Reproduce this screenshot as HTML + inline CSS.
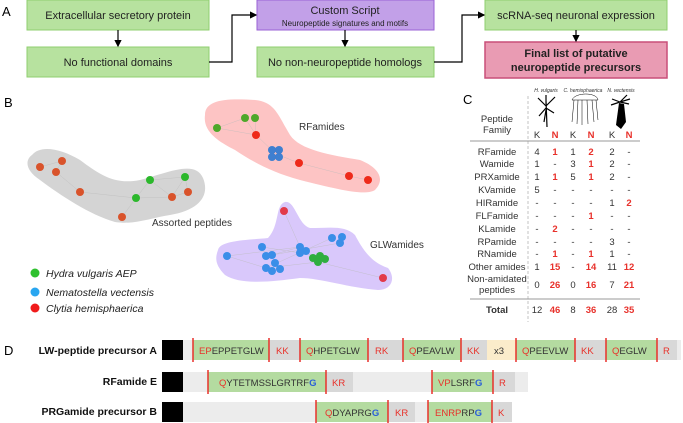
<!DOCTYPE html>
<html><head><meta charset="utf-8"><style>
body{margin:0;background:#fff}
svg{display:block;font-family:"Liberation Sans","DejaVu Sans",sans-serif}
</style></head><body>
<svg width="683" height="423" viewBox="0 0 683 423" xmlns="http://www.w3.org/2000/svg">
<defs><marker id="ah" markerWidth="6" markerHeight="6" refX="5" refY="3" orient="auto"><path d="M0,0 L6,3 L0,6 z" fill="#000"/></marker></defs>
<text x="2" y="16" font-size="13">A</text>
<g stroke-width="1">
<rect x="27" y="0" width="182" height="30" fill="#b7e29f" stroke="#8fcf6f"/>
<rect x="27" y="47" width="182" height="30" fill="#b7e29f" stroke="#8fcf6f"/>
<rect x="257" y="0" width="177" height="30" fill="#c2a0e8" stroke="#9a62d6"/>
<rect x="257" y="47" width="177" height="30" fill="#b7e29f" stroke="#8fcf6f"/>
<rect x="485" y="0" width="182" height="30" fill="#b7e29f" stroke="#8fcf6f"/>
<rect x="485" y="42" width="182" height="36" fill="#e99bb3" stroke="#c94f79" stroke-width="1.5"/>
</g>
<g font-size="11" text-anchor="middle" fill="#222">
<text x="118" y="19">Extracellular secretory protein</text>
<text x="118" y="66">No functional domains</text>
<text x="345" y="14">Custom Script</text>
<text x="345" y="26" font-size="8">Neuropeptide signatures and motifs</text>
<text x="345" y="66">No non-neuropeptide homologs</text>
<text x="576" y="19">scRNA-seq neuronal expression</text>
<text x="576" y="57" font-weight="bold">Final list of putative</text>
<text x="576" y="71" font-weight="bold">neuropeptide precursors</text>
</g>
<g stroke="#000" stroke-width="1.2" fill="none" marker-end="url(#ah)">
<path d="M118,30 V46"/>
<path d="M209,62 H232 V15 H256"/>
<path d="M345,30 V46"/>
<path d="M434,62 H462 V15 H484"/>
<path d="M576,30 V41"/>
</g>
<text x="4" y="107" font-size="13">B</text>
<path d="M32,155 C40,145 60,148 80,160 C100,175 115,185 140,180 C170,172 195,160 203,178 C210,195 200,210 170,215 C150,218 135,225 115,222 C90,215 60,195 40,180 C25,170 25,160 32,155 Z" fill="#d4d4d4"/>
<path d="M205,115 C205,100 225,98 255,100 C275,102 278,115 290,135 C300,150 330,155 360,160 C380,168 385,180 375,190 C365,196 340,190 300,180 C270,172 250,160 235,150 C215,140 203,130 205,115 Z" fill="#fdc4c4"/>
<path d="M218,250 C220,240 250,240 268,238 C280,225 275,205 285,202 C295,200 298,225 310,228 C330,228 345,225 355,235 C362,248 370,262 388,268 C396,278 392,290 378,290 C350,288 320,278 300,278 C270,282 240,285 225,275 C215,265 215,258 218,250 Z" fill="#d9c8fb"/>
<g stroke="#bbb" stroke-width="0.5" opacity="0.7" fill="none">
<path d="M40,167 L62,161 L56,172 L80,192 L136,198 L150,180 L185,177 L188,192 L172,197 L136,198 L122,217 M150,180 L172,197 M185,177 L172,197"/>
<path d="M217,128 L245,118 L256,135 L276,154 L299,163 L349,176 L368,180 M217,128 L256,135 M255,118 L256,135"/>
<path d="M227,256 L266,268 L318,262 L383,278 M284,211 L300,247 L272,255 L340,243 M262,247 L320,256 M227,256 L300,247 M266,268 L332,238"/>
</g>
<g>
<circle cx="40" cy="167" r="4" fill="#d9532b"/><circle cx="62" cy="161" r="4" fill="#d9532b"/><circle cx="56" cy="172" r="4" fill="#d9532b"/><circle cx="80" cy="192" r="4" fill="#d9532b"/><circle cx="122" cy="217" r="4" fill="#d9532b"/><circle cx="172" cy="197" r="4" fill="#d9532b"/><circle cx="188" cy="192" r="4" fill="#d9532b"/>
<circle cx="150" cy="180" r="4" fill="#2cb82c"/><circle cx="185" cy="177" r="4" fill="#2cb82c"/><circle cx="136" cy="198" r="4" fill="#2cb82c"/>
<circle cx="217" cy="128" r="4" fill="#4ea82a"/><circle cx="245" cy="118" r="4" fill="#4ea82a"/><circle cx="255" cy="118" r="4" fill="#4ea82a"/>
<circle cx="256" cy="135" r="4" fill="#ee2a1a"/><circle cx="299" cy="163" r="4" fill="#ee2a1a"/><circle cx="349" cy="176" r="4" fill="#ee2a1a"/><circle cx="368" cy="180" r="4" fill="#ee2a1a"/>
<circle cx="272" cy="150" r="4" fill="#3f7fd0"/><circle cx="279" cy="150" r="4" fill="#3f7fd0"/><circle cx="272" cy="157" r="4" fill="#3f7fd0"/><circle cx="279" cy="157" r="4" fill="#3f7fd0"/>
<circle cx="284" cy="211" r="4" fill="#e23a4a"/><circle cx="383" cy="278" r="4" fill="#e23a4a"/>
<g fill="#3a8ee8"><circle cx="227" cy="256" r="4"/><circle cx="262" cy="247" r="4"/><circle cx="266" cy="256" r="4"/><circle cx="272" cy="255" r="4"/><circle cx="275" cy="263" r="4"/><circle cx="266" cy="268" r="4"/><circle cx="272" cy="271" r="4"/><circle cx="280" cy="269" r="4"/><circle cx="300" cy="247" r="4"/><circle cx="306" cy="251" r="4"/><circle cx="300" cy="253" r="4"/><circle cx="332" cy="238" r="4"/><circle cx="342" cy="237" r="4"/><circle cx="340" cy="243" r="4"/></g>
<g fill="#2fae3f"><circle cx="313" cy="258" r="4"/><circle cx="320" cy="256" r="4"/><circle cx="325" cy="259" r="4"/><circle cx="318" cy="262" r="4"/></g>
</g>
<g font-size="10" fill="#333">
<text x="299" y="130">RFamides</text>
<text x="152" y="226">Assorted peptides</text>
<text x="370" y="248">GLWamides</text>
</g>
<circle cx="35" cy="273" r="4.5" fill="#2fc12f"/><circle cx="35" cy="292" r="4.5" fill="#29a6f0"/><circle cx="35" cy="308" r="4.5" fill="#f01b1b"/>
<g font-size="10.5" font-style="italic" fill="#222">
<text x="46" y="277">Hydra vulgaris AEP</text>
<text x="46" y="296">Nematostella vectensis</text>
<text x="46" y="312">Clytia hemisphaerica</text>
</g>
<text x="463" y="104" font-size="13">C</text>
<line x1="528" y1="96" x2="528" y2="322" stroke="#aaa" stroke-dasharray="3,2" stroke-width="0.7"/>
<g font-size="5" font-style="italic" fill="#333" text-anchor="middle">
<text x="546" y="92">H. vulgaris</text><text x="583" y="92">C. hemisphaerica</text><text x="621" y="92">N. vectensis</text>
</g>
<g stroke="#000" stroke-width="1.2" fill="none">
<path d="M547,127 L546,100 M546,106 L538,98 M546,106 L555,97 M546,108 L539,116 M546,108 L554,113 M546,104 L546,95 M546,110 L544,122"/>
<path d="M572,100 C575,92 597,92 598,100 Z M574,100 L572,122 M578,100 L577,124 M582,100 L582,125 M587,100 L588,124 M592,100 L594,122 M596,100 L598,120" stroke-width="0.5"/>
<path d="M620,102 L612,99 M620,102 L627,95 M620,102 L630,99 M620,102 L611,105 M620,102 L629,104"/>
</g>
<path d="M619,103 L624,104 L626,122 L621,129 L616,125 Z" fill="#000"/>
<text x="497" y="122" font-size="9.5" text-anchor="middle" fill="#333">Peptide</text>
<text x="497" y="133" font-size="9.5" text-anchor="middle" fill="#333">Family</text>
<line x1="470" y1="141" x2="640" y2="141" stroke="#999"/>
<line x1="470" y1="299" x2="640" y2="299" stroke="#999"/>
<g font-size="9.5" fill="#333" text-anchor="middle">
<text x="537" y="138">K</text><text x="573" y="138">K</text><text x="612" y="138">K</text>
<g fill="#e8312b" font-weight="bold"><text x="555" y="138">N</text><text x="591" y="138">N</text><text x="629" y="138">N</text></g>
<text x="497" y="155">RFamide</text><text x="497" y="167">Wamide</text><text x="497" y="180">PRXamide</text><text x="497" y="193">KVamide</text><text x="497" y="206">HIRamide</text><text x="497" y="219">FLFamide</text><text x="497" y="232">KLamide</text><text x="497" y="245">RPamide</text><text x="497" y="257">RNamide</text><text x="497" y="270">Other amides</text><text x="497" y="282">Non-amidated</text><text x="497" y="293">peptides</text>
<text x="497" y="313" font-weight="bold">Total</text>
<text x="537" y="155">4</text><text x="573" y="155">1</text><text x="612" y="155">2</text><text x="629" y="155">-</text>
<text x="537" y="167">1</text><text x="555" y="167">-</text><text x="573" y="167">3</text><text x="612" y="167">2</text><text x="629" y="167">-</text>
<text x="537" y="180">1</text><text x="573" y="180">5</text><text x="612" y="180">2</text><text x="629" y="180">-</text>
<text x="537" y="193">5</text><text x="555" y="193">-</text><text x="573" y="193">-</text><text x="591" y="193">-</text><text x="612" y="193">-</text><text x="629" y="193">-</text>
<text x="537" y="206">-</text><text x="555" y="206">-</text><text x="573" y="206">-</text><text x="591" y="206">-</text><text x="612" y="206">1</text>
<text x="537" y="219">-</text><text x="555" y="219">-</text><text x="573" y="219">-</text><text x="612" y="219">-</text><text x="629" y="219">-</text>
<text x="537" y="232">-</text><text x="573" y="232">-</text><text x="591" y="232">-</text><text x="612" y="232">-</text><text x="629" y="232">-</text>
<text x="537" y="245">-</text><text x="555" y="245">-</text><text x="573" y="245">-</text><text x="591" y="245">-</text><text x="612" y="245">3</text><text x="629" y="245">-</text>
<text x="537" y="257">-</text><text x="573" y="257">-</text><text x="612" y="257">1</text><text x="629" y="257">-</text>
<text x="537" y="270">1</text><text x="573" y="270">-</text><text x="612" y="270">11</text>
<text x="537" y="288">0</text><text x="573" y="288">0</text><text x="612" y="288">7</text>
<text x="537" y="313">12</text><text x="573" y="313">8</text><text x="612" y="313">28</text>
<g fill="#e8312b" font-weight="bold">
<text x="555" y="155">1</text><text x="591" y="155">2</text><text x="591" y="167">1</text><text x="555" y="180">1</text><text x="591" y="180">1</text><text x="629" y="206">2</text><text x="591" y="219">1</text><text x="555" y="232">2</text><text x="555" y="257">1</text><text x="591" y="257">1</text>
<text x="555" y="270">15</text><text x="591" y="270">14</text><text x="629" y="270">12</text>
<text x="555" y="288">26</text><text x="591" y="288">16</text><text x="629" y="288">21</text>
<text x="555" y="313">46</text><text x="591" y="313">36</text><text x="629" y="313">35</text>
</g>
</g>
<text x="4" y="355" font-size="13">D</text>
<g font-size="10.5" font-weight="bold" text-anchor="end" fill="#111">
<text x="157" y="354">LW-peptide precursor A</text>
<text x="157" y="385">RFamide E</text>
<text x="157" y="415">PRGamide precursor B</text>
</g>
<rect x="183" y="340" width="498" height="20" fill="#ececec"/>
<rect x="162" y="340" width="21" height="20" fill="#000"/>
<g fill="#b4dba0"><rect x="193" y="340" width="76" height="20"/><rect x="300" y="340" width="68" height="20"/><rect x="403" y="340" width="58" height="20"/><rect x="516" y="340" width="59" height="20"/><rect x="606" y="340" width="51" height="20"/></g>
<g fill="#d8d8d8"><rect x="269" y="340" width="31" height="20"/><rect x="368" y="340" width="35" height="20"/><rect x="461" y="340" width="26" height="20"/><rect x="575" y="340" width="31" height="20"/><rect x="657" y="340" width="20" height="20"/></g>
<rect x="487" y="340" width="29" height="20" fill="#fbeccb"/>
<g stroke="#e8312b" stroke-width="1.5"><line x1="193" y1="338" x2="193" y2="362"/><line x1="269" y1="338" x2="269" y2="362"/><line x1="300" y1="338" x2="300" y2="362"/><line x1="368" y1="338" x2="368" y2="362"/><line x1="403" y1="338" x2="403" y2="362"/><line x1="461" y1="338" x2="461" y2="362"/><line x1="516" y1="338" x2="516" y2="362"/><line x1="575" y1="338" x2="575" y2="362"/><line x1="606" y1="338" x2="606" y2="362"/><line x1="657" y1="338" x2="657" y2="362"/></g>
<rect x="183" y="372" width="345" height="20" fill="#ececec"/>
<rect x="162" y="372" width="21" height="20" fill="#000"/>
<rect x="208" y="372" width="118" height="20" fill="#b4dba0"/><rect x="326" y="372" width="27" height="20" fill="#d8d8d8"/>
<rect x="432" y="372" width="61" height="20" fill="#b4dba0"/><rect x="493" y="372" width="22" height="20" fill="#d8d8d8"/>
<g stroke="#e8312b" stroke-width="1.5"><line x1="208" y1="370" x2="208" y2="394"/><line x1="326" y1="370" x2="326" y2="394"/><line x1="432" y1="370" x2="432" y2="394"/><line x1="493" y1="370" x2="493" y2="394"/></g>
<rect x="183" y="402" width="329" height="20" fill="#ececec"/>
<rect x="162" y="402" width="21" height="20" fill="#000"/>
<rect x="316" y="402" width="72" height="20" fill="#b4dba0"/><rect x="388" y="402" width="27" height="20" fill="#d8d8d8"/>
<rect x="428" y="402" width="64" height="20" fill="#b4dba0"/><rect x="492" y="402" width="20" height="20" fill="#d8d8d8"/>
<g stroke="#e8312b" stroke-width="1.5"><line x1="316" y1="400" x2="316" y2="423"/><line x1="388" y1="400" x2="388" y2="423"/><line x1="428" y1="400" x2="428" y2="423"/><line x1="492" y1="400" x2="492" y2="423"/></g>
<g font-size="9.5" fill="#333">
<text x="199" y="354"><tspan fill="#e8312b">EP</tspan>EPPETGLW</text>
<text x="276" y="354" fill="#e8312b">KK</text>
<text x="306" y="354"><tspan fill="#e8312b">Q</tspan>HPETGLW</text>
<text x="375" y="354" fill="#e8312b">RK</text>
<text x="409" y="354"><tspan fill="#e8312b">Q</tspan>PEAVLW</text>
<text x="467" y="354" fill="#e8312b">KK</text>
<text x="494" y="354">x3</text>
<text x="522" y="354"><tspan fill="#e8312b">Q</tspan>PEEVLW</text>
<text x="581" y="354" fill="#e8312b">KK</text>
<text x="612" y="354"><tspan fill="#e8312b">Q</tspan>EGLW</text>
<text x="663" y="354" fill="#e8312b">R</text>
<text x="219" y="386"><tspan fill="#e8312b">Q</tspan>YTETMSSLGRTRF<tspan fill="#2a5fd8" font-weight="bold">G</tspan></text>
<text x="332" y="386" fill="#e8312b">KR</text>
<text x="438" y="386"><tspan fill="#e8312b">VP</tspan>LSRF<tspan fill="#2a5fd8" font-weight="bold">G</tspan></text>
<text x="499" y="386" fill="#e8312b">R</text>
<text x="325" y="416"><tspan fill="#e8312b">Q</tspan>DYAPRG<tspan fill="#2a5fd8" font-weight="bold">G</tspan></text>
<text x="395" y="416" fill="#e8312b">KR</text>
<text x="435" y="416"><tspan fill="#e8312b">ENRP</tspan>RP<tspan fill="#2a5fd8" font-weight="bold">G</tspan></text>
<text x="498" y="416" fill="#e8312b">K</text>
</g>
</svg>
</body></html>
